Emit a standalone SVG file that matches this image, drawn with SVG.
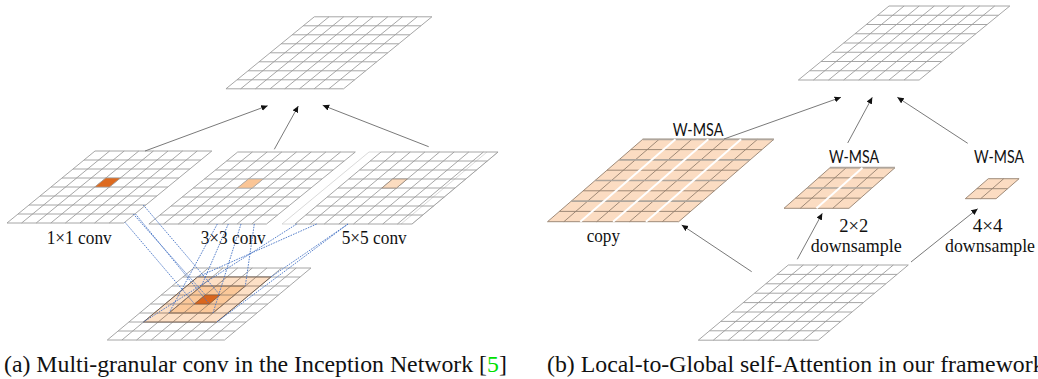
<svg xmlns="http://www.w3.org/2000/svg" xmlns:xlink="http://www.w3.org/1999/xlink" width="1038" height="379" viewBox="0 0 1038 379">
<style>
path,line{vector-effect:non-scaling-stroke}
.grid{fill:none;stroke:#9c9c9c;stroke-width:.9}
.win{fill:#fbdcc2;stroke:#94806e;stroke-width:.9}
.gap{fill:none;stroke:#fff;stroke-width:2}
.bar{fill:none;stroke:#aea59c;stroke-width:1.7}
.pale{fill:none;stroke:#cfcfcf;stroke-width:.8}
.arrow{stroke:#6a6a6a;stroke-width:.9;fill:none;marker-end:url(#tip)}
.blue{stroke:#4472c4;stroke-width:.9;stroke-dasharray:1.6 1.1;fill:none}
.serif{font-family:"Liberation Serif","DejaVu Serif",serif;font-size:19px;fill:#111}
.small{font-size:18.4px}
.sans{font-family:Lato,"Open Sans",sans-serif;font-size:17px;fill:#111}
.cap{font-family:"Liberation Serif",serif;font-size:23.8px;fill:#111}
</style>
<defs>
<marker id="tip" markerUnits="userSpaceOnUse" markerWidth="8" markerHeight="8" refX="6.5" refY="3" orient="auto"><path d="M0 0L6.5 3L0 6Z" fill="#111"/></marker>
<path id="g8" d="M0 0H8M0 1H8M0 2H8M0 3H8M0 4H8M0 5H8M0 6H8M0 7H8M0 8H8M0 0V8M1 0V8M2 0V8M3 0V8M4 0V8M5 0V8M6 0V8M7 0V8M8 0V8"/>
</defs>

<g id="output-left"><use href="#g8" class="grid" transform="matrix(14.7 0 -11.04 9 314.3 16.8)"/></g>

<g id="conv-1x1">
<g transform="matrix(14.6 0 -11 9 95 151)"><use href="#g8" class="grid"/><path d="M3 3H4V4H3Z" fill="#dd6a1f" stroke="#a3a3a3" stroke-width=".6"/></g>
<text class="serif" x="46.7" y="244" textLength="65" lengthAdjust="spacingAndGlyphs">1×1 conv</text>
</g>
<g id="conv-3x3">
<g transform="matrix(14.7 0 -11.1 9 237.7 152)"><use href="#g8" class="grid"/><path d="M3 3H4V4H3Z" fill="#fac596" stroke="#a3a3a3" stroke-width=".6"/></g>
<text class="serif" x="200.7" y="244" textLength="65" lengthAdjust="spacingAndGlyphs">3×3 conv</text>
</g>
<g id="conv-5x5">
<path class="pale" d="M381 152H369L282 224H295M498 152L412 224M487 152L401 224"/>
<g transform="matrix(14.63 0 -10.75 9 381 152)"><use href="#g8" class="grid"/><path d="M3 3H4V4H3Z" fill="#fbdcc0" stroke="#8a7a6c" stroke-width=".7"/></g>
<text class="serif" x="341.7" y="244" textLength="65" lengthAdjust="spacingAndGlyphs">5×5 conv</text>
</g>

<g id="input-left" transform="matrix(14.65 0 -10.8 9 193.7 268)">
<use href="#g8" class="grid"/>
<path d="M1 1H6V6H1Z" fill="#fde0c6" stroke="#6e5a4c" stroke-width="1"/>
<path d="M2 2H5V5H2Z" fill="#fbc899" stroke="#8a6a50" stroke-width="1"/>
<path d="M1 2H6M1 3H6M1 4H6M1 5H6M2 1V6M3 1V6M4 1V6M5 1V6" fill="none" stroke="#8f7867" stroke-width=".8"/>
<path d="M3 3H4V4H3Z" fill="#d9661f" stroke="#8a5a38" stroke-width=".7"/>
</g>

<g id="window-copy" transform="matrix(16.4 0 -11.9 10.3 642.7 139.3)">
<path class="win" d="M0 0H8V8H0Z"/>
<path class="win" d="M0 1H8M0 3H8M0 5H8M0 7H8M1 0V8M3 0V8M5 0V8M7 0V8"/>
<path class="bar" d="M0 0H8M0 2H8M0 4H8M0 6H8"/>
<path class="gap" d="M2 0V8M4 0V8M6 0V8"/>
</g>
<g id="window-2x2" transform="matrix(16.25 0 -11.5 10.15 830 167.7)">
<path class="win" d="M0 0H4V4H0Z"/>
<path class="win" d="M0 1H4M0 3H4M1 0V4M3 0V4"/>
<path class="bar" d="M0 0H4M0 2H4"/>
<path class="gap" d="M2 0V4"/>
</g>
<g id="window-4x4" transform="matrix(15.4 0 -11.5 10 988.3 178.7)">
<path class="win" d="M0 0H2V2H0ZM0 1H2M1 0V2"/>
</g>
<g id="output-right"><use href="#g8" class="grid" transform="matrix(15.1 0 -11.33 9.25 889 6)"/></g>
<g id="input-right"><use href="#g8" class="grid" transform="matrix(15 0 -11.25 9.4 788.3 265)"/></g>

<g id="connectors">
<line class="blue" x1="125" y1="222.3" x2="194.6" y2="304"/>
<line class="blue" x1="133.3" y1="214" x2="205.4" y2="295"/>
<line class="blue" x1="135.5" y1="214" x2="209.3" y2="304"/>
<line class="blue" x1="143.3" y1="205" x2="220" y2="295"/>
<line class="blue" x1="217.3" y1="224" x2="169" y2="313"/>
<line class="blue" x1="228.3" y1="224" x2="201.4" y2="286"/>
<line class="blue" x1="241" y1="224" x2="213" y2="313"/>
<line class="blue" x1="254.3" y1="224" x2="245.3" y2="286"/>
<line class="blue" x1="296.7" y1="224" x2="143.5" y2="322"/>
<line class="blue" x1="316.7" y1="224" x2="197.6" y2="277"/>
<line class="blue" x1="348" y1="224" x2="216.8" y2="322"/>
<line class="blue" x1="348" y1="224" x2="270.9" y2="277"/>
<line class="arrow" x1="145" y1="151" x2="267.7" y2="105.7"/>
<line class="arrow" x1="274.3" y1="149.3" x2="298.3" y2="106"/>
<line class="arrow" x1="428.7" y1="146.7" x2="322.7" y2="105.3"/>
<line class="arrow" x1="724" y1="139" x2="841" y2="97.3"/>
<line class="arrow" x1="847.7" y1="143" x2="872.3" y2="97.3"/>
<line class="arrow" x1="967.7" y1="143.3" x2="897.3" y2="97.3"/>
<line class="arrow" x1="751.7" y1="271.7" x2="681.7" y2="225"/>
<line class="arrow" x1="797.3" y1="259.3" x2="822.3" y2="213.3"/>
<line class="arrow" x1="911" y1="262" x2="977.7" y2="208.7"/>
</g>

<text class="sans" x="672.7" y="135.7" textLength="50.7" lengthAdjust="spacingAndGlyphs">W-MSA</text>
<text class="sans" x="829" y="162.7" textLength="50" lengthAdjust="spacingAndGlyphs">W-MSA</text>
<text class="sans" x="974" y="162.7" textLength="50" lengthAdjust="spacingAndGlyphs">W-MSA</text>
<text class="serif" x="586.7" y="241.7" textLength="33.3" lengthAdjust="spacingAndGlyphs">copy</text>
<text class="serif" x="839.3" y="231.7" textLength="29" lengthAdjust="spacingAndGlyphs">2×2</text>
<text class="serif small" x="810.7" y="251.7" textLength="91" lengthAdjust="spacingAndGlyphs">downsample</text>
<text class="serif" x="972.7" y="231.7" textLength="30" lengthAdjust="spacingAndGlyphs">4×4</text>
<text class="serif small" x="945" y="251.7" textLength="90" lengthAdjust="spacingAndGlyphs">downsample</text>
<text class="cap" x="4" y="371.7">(a) Multi-granular conv in the Inception Network [<tspan fill="#00e000">5</tspan>]</text>
<text class="cap" x="547" y="371.7">(b) Local-to-Global self-Attention in our framework</text>
</svg>
